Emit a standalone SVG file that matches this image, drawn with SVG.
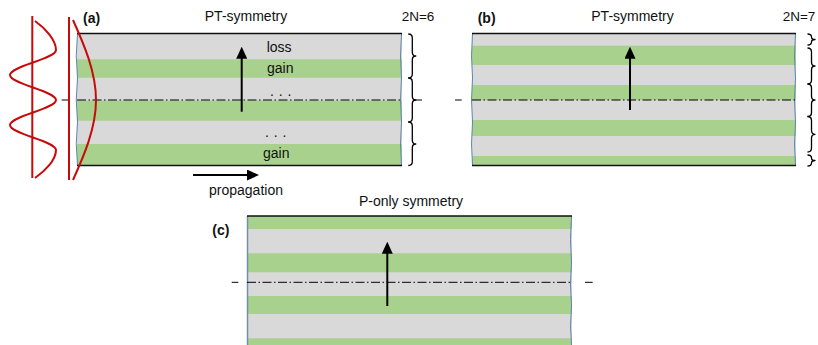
<svg xmlns="http://www.w3.org/2000/svg" width="818" height="345" viewBox="0 0 818 345">
<style>
.gray{fill:#d9d9d9}
.green{fill:#a9d18e}
.edge{stroke:#111;stroke-width:1.6;fill:none}
.side{stroke:#5b86b3;stroke-width:1;fill:none}
.axis{stroke:#000;stroke-width:1;stroke-dasharray:9 2.5 1.5 2.5;fill:none}
.solid{stroke:#000;stroke-width:1;fill:none}
.brace{stroke:#000;stroke-width:1.3;fill:none;stroke-linejoin:round}
.red{stroke:#c80a0a;stroke-width:2;fill:none}
.arr{stroke:#000;stroke-width:2;fill:none;marker-end:url(#head)}
text{font-family:"Liberation Sans",Arial,sans-serif;font-size:14px;fill:#111}
.lbl{font-weight:bold}
</style>
<defs>
<marker id="head" markerUnits="userSpaceOnUse" viewBox="0 0 12 11" markerWidth="12" markerHeight="11" refX="1" refY="5.5" orient="auto">
<path d="M0,0 L12,5.5 L0,11 z" fill="#000"/>
</marker>
</defs>

<g id="panel-a">
<rect class="gray" x="77" y="33.5" width="325" height="132"/>
<rect class="green" x="77" y="59.3" width="325" height="18.4"/>
<rect class="green" x="77" y="100.5" width="325" height="20.2"/>
<rect class="green" x="77" y="144" width="325" height="21.5"/>
<path class="side" d="M77.5,33.5 Q75,56 77.5,78 Q75,100 77.5,122 Q75,144 77.5,165.5"/>
<path class="side" d="M401.5,33.5 Q399.5,56 401.5,78 Q399.5,100 401.5,122 Q399.5,144 401.5,165.5"/>
<line class="edge" x1="77" y1="33.5" x2="402" y2="33.5"/>
<line class="edge" x1="77" y1="165.5" x2="402" y2="165.5"/>
<line class="solid" x1="61.7" y1="100" x2="68.3" y2="100"/>
<line class="axis" x1="77" y1="100" x2="402" y2="100"/>
<line class="solid" x1="414" y1="100" x2="422" y2="100"/>
<path class="brace" d="M408.3,34 Q412.3,34 412.3,38 L412.3,52 Q412.3,56 415.8,56 Q412.3,56 412.3,60 L412.3,74 Q412.3,78 408.3,78"/>
<path class="brace" d="M408.3,78 Q412.3,78 412.3,82 L412.3,96 Q412.3,100 415.8,100 Q412.3,100 412.3,104 L412.3,118 Q412.3,122 408.3,122"/>
<path class="brace" d="M408.3,122 Q412.3,122 412.3,126 L412.3,140 Q412.3,144 415.8,144 Q412.3,144 412.3,148 L412.3,161.5 Q412.3,165.5 408.3,165.5"/>
<text class="lbl" x="83" y="23">(a)</text>
<text x="246" y="21" text-anchor="middle">PT-symmetry</text>
<text x="401.7" y="21" style="font-size:13.5px">2N=6</text>
<text x="266.7" y="52">loss</text>
<text x="267" y="73">gain</text>
<text x="270" y="96" style="letter-spacing:0.5px">. . .</text>
<text x="265" y="137" style="letter-spacing:0.5px">. . .</text>
<text x="263" y="158">gain</text>
<text x="209" y="195">propagation</text>
</g>

<g id="mode-profiles">
<line class="red" x1="32.3" y1="16" x2="32.3" y2="178"/>
<path class="red" d="M35,21 C45,28 56,40 56,50 C56,59.1 10,65.9 10,75 C10,84.1 56,90.9 56,100 C56,109.1 10,115.9 10,125 C10,134.1 56,140.9 56,150 C56,160 45,171 35,178"/>
<line class="red" x1="69" y1="17" x2="69" y2="180"/>
<path class="red" d="M73,20 C84,44.4 96,72 96,100 C96,128 84,155.6 73,180"/>
</g>

<g id="panel-b">
<rect class="gray" x="472" y="33.5" width="324" height="132"/>
<rect class="green" x="472" y="45.7" width="324" height="19.3"/>
<rect class="green" x="472" y="85" width="324" height="15"/>
<rect class="green" x="472" y="120" width="324" height="16"/>
<rect class="green" x="472" y="156" width="324" height="9.5"/>
<path class="side" d="M472.5,33.5 Q470.5,56 472.5,78 Q470.5,100 472.5,122 Q470.5,144 472.5,165.5"/>
<path class="side" d="M795.5,33.5 Q793.5,56 795.5,78 Q793.5,100 795.5,122 Q793.5,144 795.5,165.5"/>
<line class="edge" x1="472" y1="33.5" x2="796" y2="33.5"/>
<line class="edge" x1="472" y1="165.5" x2="796" y2="165.5"/>
<line class="solid" x1="455" y1="100" x2="461.7" y2="100"/>
<line class="axis" x1="472" y1="100" x2="796" y2="100"/>
<path class="brace" d="M807.5,34 Q811.5,34 811.5,37 Q811.5,39.5 815,39.5 Q811.5,39.5 811.5,42 Q811.5,45 807.5,45"/>
<path class="brace" d="M807.5,48 Q811.5,48 811.5,52 L811.5,62 Q811.5,66 815,66 Q811.5,66 811.5,70 L811.5,80 Q811.5,84 807.5,84"/>
<path class="brace" d="M807.5,84 Q811.5,84 811.5,88 L811.5,96 Q811.5,100 815,100 Q811.5,100 811.5,104 L811.5,112.5 Q811.5,116.5 807.5,116.5"/>
<path class="brace" d="M807.5,116.5 Q811.5,116.5 811.5,120.5 L811.5,130.3 Q811.5,134.3 815,134.3 Q811.5,134.3 811.5,138.3 L811.5,148 Q811.5,152 807.5,152"/>
<path class="brace" d="M807.5,155 Q811.5,155 811.5,158 Q811.5,160.5 815,160.5 Q811.5,160.5 811.5,163 Q811.5,166 807.5,166"/>
<text class="lbl" x="477.7" y="23">(b)</text>
<text x="632.5" y="21" text-anchor="middle">PT-symmetry</text>
<text x="782.7" y="21" style="font-size:13.5px">2N=7</text>
</g>

<g id="panel-c">
<rect class="gray" x="247" y="216" width="325" height="129"/>
<rect class="green" x="247" y="216" width="325" height="13"/>
<rect class="green" x="247" y="253.3" width="325" height="19"/>
<rect class="green" x="247" y="296" width="325" height="18"/>
<rect class="green" x="247" y="338.3" width="325" height="6.7"/>
<line x1="247.5" y1="216" x2="247.5" y2="345" stroke="#6f93a8" stroke-width="1.5"/>
<path class="side" d="M571.5,216 Q569.5,240 571.5,262 Q569.5,284 571.5,306 Q569.5,326 571.5,345"/>
<line class="edge" x1="247" y1="216" x2="572" y2="216"/>
<line class="solid" x1="231.7" y1="282.3" x2="238.3" y2="282.3"/>
<line class="axis" x1="247" y1="282.3" x2="572" y2="282.3"/>
<line class="solid" x1="585" y1="282.3" x2="592.7" y2="282.3"/>
<text class="lbl" x="212.3" y="235">(c)</text>
<text x="411" y="205.5" text-anchor="middle">P-only symmetry</text>
</g>

<g id="arrows">
<line class="arr" x1="241.7" y1="111.7" x2="241.7" y2="57.7"/>
<line class="arr" x1="193" y1="175" x2="248" y2="175"/>
<line class="arr" x1="630" y1="110" x2="630" y2="57.7"/>
<line class="arr" x1="387.3" y1="306" x2="387.3" y2="252.7"/>
</g>
</svg>
